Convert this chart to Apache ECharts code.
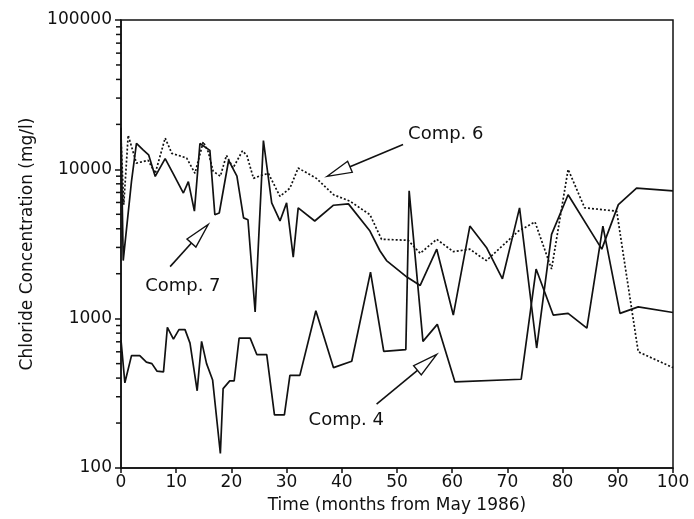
<!DOCTYPE html>
<html>
<head>
<meta charset="utf-8">
<script src="https://cdn.jsdelivr.net/npm/echarts/dist/echarts.min.js"></script>
<style>
html, body { margin: 0; padding: 0; background: #fff; }
#chart { width: 694px; height: 519px; }
</style>
</head>
<body>
<div id="chart"></div>
<script>
// months since May 1986 / chloride (mg/l)
var comp4Months = [0, 0.7, 1.9, 3.4, 4.6, 5.6, 6.5, 7.7, 8.4, 9.5, 10.5, 11.6, 12.5, 13.8, 14.6, 15.5, 16.6, 18, 18.5, 19.7, 20.5, 21.4, 23.4, 24.6, 26.4, 27.8, 29.6, 30.6, 32.4, 35.3, 38.5, 41.8, 45.2, 47.6, 51.6, 52.2, 54.7, 57.3, 60.5, 72.5, 75.2, 78.3, 81, 84.4, 87.3, 90.4, 93.7, 100]
var comp4Values = [720, 372, 566, 565, 512, 500, 446, 440, 875, 729, 845, 845, 686, 329, 705, 500, 388, 125, 340, 383, 383, 741, 741, 575, 575, 227, 227, 417, 417, 1130, 470, 519, 2050, 604, 621, 7180, 705, 916, 377, 393, 2150, 1057, 1085, 864, 4170, 1085, 1200, 1100]

var comp6Months = [0, 0.5, 1.3, 2.8, 4.9, 6.2, 8, 9.2, 11.9, 13.4, 14.9, 15.8, 16.7, 18, 19.1, 20.3, 22, 22.8, 24, 25, 26.7, 28.8, 30.6, 32.1, 35.4, 38.5, 41.5, 45.1, 47.2, 52, 54.2, 57.2, 60.2, 63.2, 65, 66.2, 72, 75, 78, 81, 84, 89.8, 93.7, 100]
var comp6Values = [16000, 5800, 16900, 11000, 11500, 9400, 16200, 12800, 11900, 9400, 15300, 13100, 9700, 9000, 12400, 10200, 13300, 12400, 8700, 9000, 9400, 6590, 7480, 10200, 8700, 6760, 6110, 4970, 3400, 3350, 2740, 3400, 2810, 2920, 2620, 2450, 3860, 4440, 2150, 10000, 5520, 5250, 600, 470]

var comp7Months = [0, 0.4, 1.9, 2.8, 4, 5, 6.2, 8, 9.5, 11.3, 12.2, 13.3, 14.3, 16.1, 17, 17.8, 19.5, 21, 22.2, 23, 24.3, 25.8, 27.3, 28.8, 30, 31.2, 32.1, 35.1, 38.5, 41.2, 45.1, 46.9, 48.1, 51.8, 54.2, 57.2, 60.2, 63.2, 66.2, 69.1, 72.2, 75.3, 78, 81, 87.1, 90.1, 93.4, 100]
var comp7Values = [19000, 2450, 8300, 14900, 13500, 12500, 8960, 11800, 9300, 6940, 8280, 5250, 14900, 13400, 4970, 5100, 11500, 9000, 4730, 4600, 1110, 15600, 5960, 4510, 5960, 2580, 5520, 4510, 5750, 5870, 3860, 2850, 2450, 1900, 1670, 2920, 1057, 4170, 3000, 1850, 5520, 636, 3670, 6760, 2920, 5800, 7480, 7180]

var yTickLabels = [100, 1000, 10000, 100000]
var minorTickFactors = [2, 3, 4, 5, 6, 7, 8, 9]

// annotation arrows: [label, tail month, tail value, tip month, tip value, text dx, text dy]
var notes = [
  ['Comp. 6', 51.1, 14660, 37.3, 8960, 5, -10],
  ['Comp. 7', 8.9, 2230, 15.8, 4270, -25, 20],
  ['Comp. 4', 46.3, 268, 57.2, 576, -68, 16]
]

function pairs(xs, ys) {
  return xs.map(function (x, i) { return [x, ys[i]] })
}

var font = 'DejaVu Sans'
var ink = '#111'

var chart = echarts.init(document.getElementById('chart'))
var option = {
  animation: false,
  backgroundColor: '#fff',
  grid: {
    left: 121, right: 21, top: 20, bottom: 46,
    show: true, borderColor: ink, borderWidth: 1.5
  },
  xAxis: {
    type: 'value', min: 0, max: 100, interval: 10,
    name: 'Time (months from May 1986)',
    nameLocation: 'middle', nameGap: 29,
    nameTextStyle: { fontFamily: font, fontSize: 17, color: ink },
    axisLine: { lineStyle: { color: ink, width: 1.5 } },
    axisTick: { length: 5, lineStyle: { color: ink, width: 1.5 } },
    axisLabel: { fontFamily: font, fontSize: 17, color: ink, margin: 6 },
    splitLine: { show: false }
  },
  yAxis: {
    type: 'log', logBase: 10, min: 100, max: 100000,
    name: 'Chloride Concentration (mg/l)',
    nameLocation: 'middle', nameGap: 84, nameRotate: 90,
    nameTextStyle: { fontFamily: font, fontSize: 17, color: ink },
    axisLine: { lineStyle: { color: ink, width: 1.5 } },
    axisTick: { length: 6, lineStyle: { color: ink, width: 1.5 } },
    axisLabel: {
      fontFamily: font, fontSize: 17, color: ink, margin: 9,
      formatter: function (v) { return String(Math.round(v)) }
    },
    splitLine: { show: false }
  },
  series: [
    {
      name: 'Comp. 4', type: 'line', symbol: 'none',
      data: pairs(comp4Months, comp4Values),
      lineStyle: { color: ink, width: 1.7 }
    },
    {
      name: 'Comp. 6', type: 'line', symbol: 'none',
      data: pairs(comp6Months, comp6Values),
      lineStyle: { color: ink, width: 1.7, type: [2, 2] }
    },
    {
      name: 'Comp. 7', type: 'line', symbol: 'none',
      data: pairs(comp7Months, comp7Values),
      lineStyle: { color: ink, width: 1.7 }
    }
  ]
}
chart.setOption(option)

var graphics = []

// minor log ticks 2..9 in each decade, placed through the y scale
yTickLabels.slice(0, 3).forEach(function (d) {
  minorTickFactors.forEach(function (k) {
    var p = chart.convertToPixel({ gridIndex: 0 }, [0, k * d])
    graphics.push({
      type: 'line',
      shape: { x1: p[0] - 5, y1: p[1], x2: p[0], y2: p[1] },
      style: { stroke: ink, lineWidth: 1.5 }
    })
  })
})

// arrows with hollow heads + labels
notes.forEach(function (n) {
  var tail = chart.convertToPixel({ gridIndex: 0 }, [n[1], n[2]])
  var tip = chart.convertToPixel({ gridIndex: 0 }, [n[3], n[4]])
  var dx = tip[0] - tail[0], dy = tip[1] - tail[1]
  var len = Math.sqrt(dx * dx + dy * dy)
  var ux = dx / len, uy = dy / len
  var bx = tip[0] - ux * 25, by = tip[1] - uy * 25
  graphics.push({
    type: 'line',
    shape: { x1: tail[0], y1: tail[1], x2: bx, y2: by },
    style: { stroke: ink, lineWidth: 1.6 }
  })
  graphics.push({
    type: 'polygon',
    shape: { points: [tip, [bx - uy * 6, by + ux * 6], [bx + uy * 6, by - ux * 6]] },
    style: { fill: '#fff', stroke: ink, lineWidth: 1.4 }
  })
  graphics.push({
    type: 'text',
    x: tail[0] + n[5], y: tail[1] + n[6],
    style: { text: n[0], fontFamily: font, fontSize: 18, fill: ink, verticalAlign: 'middle' }
  })
})
chart.setOption({ graphic: graphics })
</script>
</body>
</html>
